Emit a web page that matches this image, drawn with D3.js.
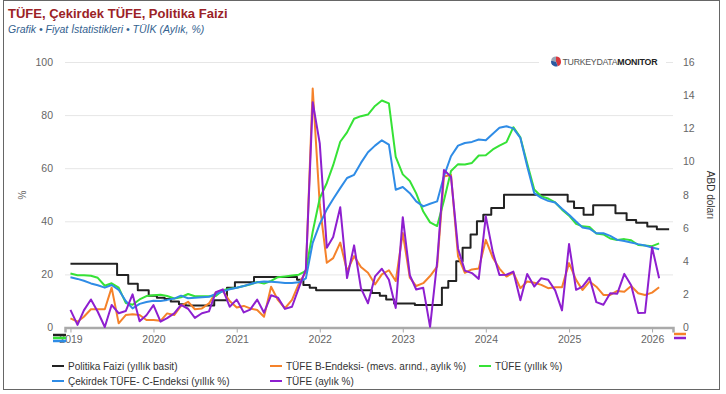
<!DOCTYPE html>
<html><head><meta charset="utf-8">
<script src="https://cdn.jsdelivr.net/npm/d3@7"></script>
<style>
body{margin:0;background:#fff;}
svg{display:block;font-family:"Liberation Sans",Arial,sans-serif;}
</style></head><body>
<svg id="c" width="726" height="394"></svg>
<script>
// ---------- DATA ----------
const startYear = 2019; // monthly series start Jan 2019
const tufeYillik = [
 20.35,19.67,19.71,19.50,18.71,15.72,16.65,15.01,9.26,8.55,10.56,11.84,
 12.15,12.37,11.86,10.94,11.39,12.62,11.76,11.77,11.75,11.89,14.03,14.60,
 14.97,15.61,16.19,17.14,16.59,17.53,18.95,19.25,19.58,19.89,21.31,36.08,
 48.69,54.44,61.14,69.97,73.50,78.62,79.60,80.21,83.45,85.51,84.39,64.27,
 57.68,55.18,50.51,43.68,39.59,38.21,47.83,58.94,61.53,61.36,61.98,64.77,
 64.86,67.07,68.50,69.80,75.45,71.60,61.78,51.97,49.38,48.58,47.09,44.38,
 42.12,39.05,38.10,37.86,35.41,35.05,33.52,32.95,33.29,32.87,31.07,30.89,
 30.65,31.7];
const cekirdekC = [
 18.9,18.3,17.6,16.6,15.9,15.0,16.0,14.2,10.0,7.2,8.9,9.6,
 10.1,10.0,10.4,10.9,12.0,11.0,11.2,11.4,11.6,12.6,13.6,14.4,
 15.0,15.6,16.4,17.0,17.3,17.2,17.0,16.8,16.8,17.0,18.5,31.9,
 39.0,44.5,48.4,52.5,56.3,57.5,62.0,66.0,68.5,70.5,68.9,51.9,
 52.9,50.6,47.5,45.6,46.6,47.5,57.0,64.5,68.5,69.5,69.9,70.8,
 70.5,73.0,75.2,75.8,75.0,71.4,60.7,50.6,48.8,47.7,47.1,44.7,
 42.5,39.9,37.7,37.2,35.5,35.5,34.5,33.0,32.6,32.0,31.4,30.9,
 30.1,29.5];
const tufeAylik = [
 1.06,0.16,1.03,1.69,0.95,0.03,1.36,0.86,0.99,2.00,0.38,0.74,
 1.35,0.35,0.57,0.85,1.36,1.13,0.58,0.86,0.97,2.13,2.30,1.25,
 1.68,0.91,1.08,1.68,0.89,1.94,1.80,1.12,1.25,2.39,3.51,13.58,
 11.10,4.81,5.46,7.25,2.98,4.95,2.37,1.46,3.08,3.54,2.88,1.18,
 6.65,3.15,2.29,2.39,0.04,3.92,9.49,9.09,4.75,3.43,3.28,2.93,
 6.70,4.53,3.16,3.18,3.37,1.64,3.23,2.47,2.97,2.88,2.24,1.03,
 5.03,2.27,2.46,3.00,1.53,1.37,2.06,2.04,3.23,2.55,0.87,0.89,
 4.84,2.97];
const tufeB = [
 0.55,0.35,0.65,1.10,1.10,1.10,2.40,0.25,0.75,0.80,0.75,0.45,
 0.45,0.40,0.85,0.75,1.30,1.55,1.10,1.15,1.45,2.10,2.20,1.60,
 1.20,1.30,1.15,1.05,0.65,2.46,1.66,1.16,1.66,2.65,3.35,14.40,
 7.40,3.90,4.18,5.12,3.40,4.30,3.65,3.30,2.60,3.20,3.45,2.80,
 5.69,3.00,2.50,2.67,3.10,3.67,9.10,9.20,4.28,3.30,3.50,3.55,
 5.28,4.20,3.55,3.07,3.31,2.37,2.77,2.70,2.57,2.37,2.43,2.43,
 3.88,2.87,2.26,2.77,2.46,1.96,1.96,2.20,2.16,2.50,2.06,1.96,
 2.10,2.43];
const policyDates = ["2019-01-01","2019-07-25","2019-09-12","2019-10-24","2019-12-11",
 "2020-01-16","2020-02-19","2020-03-17","2020-04-22","2020-05-21","2020-09-24","2020-11-19","2020-12-24",
 "2021-03-18","2021-09-23","2021-10-21","2021-11-18","2021-12-16",
 "2022-08-18","2022-09-22","2022-10-20","2022-11-24",
 "2023-02-23","2023-06-22","2023-07-20","2023-08-24","2023-09-21","2023-10-26","2023-11-23","2023-12-21",
 "2024-01-25","2024-03-21","2024-12-26",
 "2025-01-23","2025-03-06","2025-04-17","2025-07-24","2025-09-11","2025-10-23","2025-12-11",
 "2026-01-22","2026-03-17"];
const policyValues = [24,19.75,16.5,14,12,
 11.25,10.75,9.75,8.75,8.25,10.25,15,17,
 19,18,16,15,14,
 13,12,10.5,9,
 8.5,15,17.5,25,30,35,40,42.5,
 45,50,47.5,
 45,42.5,46,43,40.5,39.5,38,
 37,37];
const yearTicks = [2019,2020,2021,2022,2023,2024,2025,2026];
const leftTicks = [0,20,40,60,80,100];
const rightTicks = [0,2,4,6,8,10,12,14,16];

const series = [
 {name:"Politika Faizi (yıllık basit)", color:"#222222", axis:"L", type:"policy"},
 {name:"TÜFE B-Endeksi- (mevs. arınd., aylık %)", color:"#f5822a", axis:"R", vals:tufeB},
 {name:"TÜFE (yıllık %)", color:"#36e236", axis:"L", vals:tufeYillik},
 {name:"Çekirdek TÜFE- C-Endeksi (yıllık %)", color:"#2f8ce6", axis:"L", vals:cekirdekC},
 {name:"TÜFE (aylık %)", color:"#8e1fcf", axis:"R", vals:tufeAylik}
];

// ---------- LAYOUT ----------
const svg = d3.select("#c");
const pL=65, pR=673, pT=62, pB=327.5;
const x = d3.scaleUtc().domain([Date.UTC(2018,11,8), Date.UTC(2026,3,3)]).range([pL,pR]);
const yL = d3.scaleLinear().domain([0,100]).range([pB,pT]);
const yR = d3.scaleLinear().domain([0,16]).range([pB,pT]);

svg.append("rect").attr("x",3.5).attr("y",0.5).attr("width",716).attr("height",389)
  .attr("fill","#fff").attr("stroke","#666").attr("stroke-width",1);

// title
svg.append("text").attr("x",8).attr("y",18).attr("font-size",13).attr("font-weight","bold")
  .attr("fill","#9b2226").text("TÜFE, Çekirdek TÜFE, Politika Faizi");
svg.append("text").attr("x",8).attr("y",33).attr("font-size",10.5).attr("font-style","italic")
  .attr("fill","#34628f").text("Grafik • Fiyat İstatistikleri • TÜİK (Aylık, %)");

// grid
const grid = svg.append("g").attr("transform",`translate(${pL},0)`)
  .call(d3.axisLeft(yL).tickValues(leftTicks.filter(d=>d>0)).tickSize(-(pR-pL)).tickFormat(""));
grid.select(".domain").remove();
grid.selectAll("line").attr("stroke","#e6e6e6");

// left axis labels
const ga = svg.append("g").attr("transform",`translate(${pL-8},0)`)
  .call(d3.axisLeft(yL).tickValues(leftTicks).tickSize(0).tickPadding(4));
ga.select(".domain").remove();
ga.selectAll("text").attr("font-size",10.5).attr("fill","#666").attr("font-family","Liberation Sans, Arial, sans-serif");
svg.append("text").attr("transform","translate(26,195) rotate(-90)").attr("text-anchor","middle")
  .attr("font-size",10).attr("fill","#666").text("%");

// right axis labels
const gr = svg.append("g").attr("transform",`translate(${pR+6},0)`)
  .call(d3.axisRight(yR).tickValues(rightTicks).tickSize(0).tickPadding(4));
gr.select(".domain").remove();
gr.selectAll("text").attr("font-size",10.5).attr("fill","#666").attr("font-family","Liberation Sans, Arial, sans-serif");
svg.append("text").attr("transform","translate(707,195) rotate(90)").attr("text-anchor","middle")
  .attr("font-size",10).attr("fill","#333").text("ABD doları");

// logo
const logo = svg.append("g");
logo.append("rect").attr("x",539).attr("y",54).attr("width",127).attr("height",15).attr("fill","#fff");
const pie = d3.pie().sort(null)([4,3,2]);
const arc = d3.arc().innerRadius(0).outerRadius(5);
logo.append("g").attr("transform","translate(556,61.5)").selectAll("path").data(pie).join("path")
  .attr("d",arc).attr("fill",(d,i)=>["#d8393f","#2c5aa0","#9aa5b5"][i]);
const lt = logo.append("text").attr("x",562.5).attr("y",65).attr("font-size",8.8).attr("fill","#555");
lt.append("tspan").text("TURKEYDATA").attr("letter-spacing",-0.3);
lt.append("tspan").text("MONITOR").attr("font-weight","bold").attr("fill","#222").attr("letter-spacing",-0.2);

// x axis
const gx = svg.append("g").attr("transform",`translate(0,${pB})`)
  .call(d3.axisBottom(x).tickValues(yearTicks.map(y=>new Date(Date.UTC(y,0,1))))
    .tickFormat(d3.utcFormat("%Y")).tickSize(5).tickPadding(3));
gx.select(".domain").attr("stroke","#aaa").attr("stroke-width",2.5);
gx.selectAll("line").attr("stroke","#aaa");
gx.selectAll("text").attr("font-size",10.5).attr("fill","#666").attr("font-family","Liberation Sans, Arial, sans-serif");

// series
const monthDate = i => new Date(Date.UTC(startYear, i, 1));
const plot = svg.append("g");
series.forEach(s=>{
  let line, data;
  if (s.type==="policy"){
    data = policyDates.map((d,i)=>({d:new Date(d+"T00:00:00Z"), v:policyValues[i]}));
    line = d3.line().x(p=>x(p.d)).y(p=>yL(p.v)).curve(d3.curveStepAfter);
  } else {
    data = s.vals.map((v,i)=>({d:monthDate(i), v}));
    const ys = s.axis==="L"?yL:yR;
    line = d3.line().x(p=>x(p.d)).y(p=>ys(p.v));
  }
  plot.append("path").datum(data).attr("d",line).attr("fill","none")
    .attr("stroke",s.color).attr("stroke-width",2).attr("stroke-linejoin","round");
});

// axis series markers
const leftMarks = series.filter(s=>s.axis==="L");
leftMarks.forEach((s,i)=>{
  svg.append("line").attr("x1",53).attr("x2",66).attr("y1",335+i*3).attr("y2",335+i*3)
    .attr("stroke",s.color).attr("stroke-width",2.5);
});
const rightMarks = series.filter(s=>s.axis==="R");
rightMarks.forEach((s,i)=>{
  svg.append("line").attr("x1",674).attr("x2",686).attr("y1",334+i*4).attr("y2",334+i*4)
    .attr("stroke",s.color).attr("stroke-width",2.5);
});

// legend
const legPos = [[52,366],[270,366],[479,366],[52,381],[270,381]];
const legOrder = [0,1,2,3,4];
const leg = svg.append("g");
legOrder.forEach((si,k)=>{
  const s = series[si], [lx,ly] = legPos[k];
  const g = leg.append("g").attr("transform",`translate(${lx},${ly})`);
  g.append("line").attr("x1",0).attr("x2",12).attr("y1",0).attr("y2",0).attr("stroke",s.color).attr("stroke-width",2);
  g.append("text").attr("x",16).attr("y",3.5).attr("font-size",10).attr("fill","#333").text(s.name);
});
</script>
</body></html>
